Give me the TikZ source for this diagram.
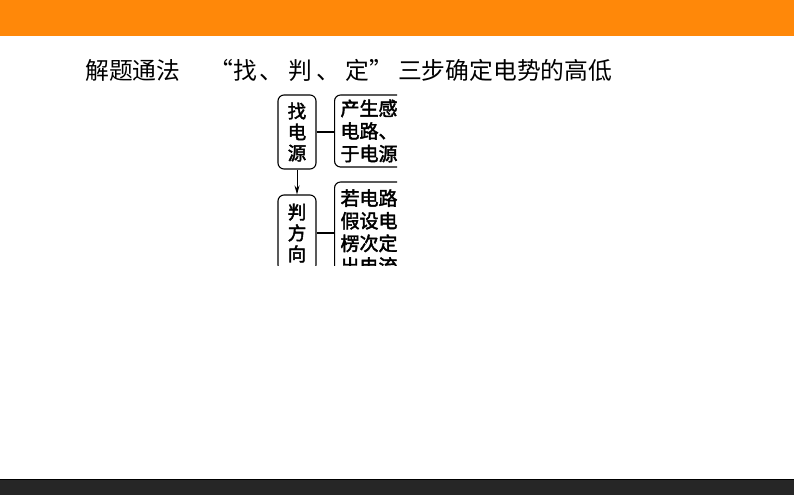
\documentclass[tikz,border=0pt]{standalone}
\usepackage{fontspec}
\newfontfamily\cjk{Noto Sans CJK SC}
\newfontfamily\cjkb[FakeBold=2.2]{Noto Sans CJK SC}
\usetikzlibrary{arrows.meta}
\definecolor{barorange}{HTML}{FF8809}
\definecolor{bardark}{HTML}{262626}
\tikzset{
  box/.style={draw, line width=1.1pt, rounded corners=6pt, inner sep=0pt},
  lbox/.style={box, minimum width=38pt, align=center,
    font=\cjkb\fontsize{18.5}{21}\selectfont},
  rbox/.style={box, anchor=west, minimum width=200pt, text width=188pt,
    inner xsep=5.5pt, align=left, font=\cjkb\fontsize{19}{22.6}\selectfont},
  link/.style={line width=1.1pt},
  title/.style={font=\cjk\fontsize{23.8}{28}\selectfont, inner sep=0pt}
}
\begin{document}
\begin{tikzpicture}[x=1pt,y=-1pt]
\useasboundingbox (0,0) rectangle (794,495);
\fill[barorange] (0,0) rectangle (794,36);
\fill[bardark] (0,479) rectangle (794,495);
\draw[black, line width=0.8pt] (0,479.4) -- (794,479.4);
\node[title, anchor=base west] (t1) at (85,79) {解题通法};
\node[title, anchor=base west] (t2) at (219,79) {\makebox[14pt][r]{“}\makebox[24pt][l]{找}\hspace{2pt}\makebox[29pt][l]{、}\makebox[24pt][l]{判}\hspace{4pt}\makebox[29pt][l]{、}\makebox[24pt][l]{定}\makebox[29pt][l]{”}三步确定电势的高低};
\begin{scope}
\clip (260,85) rectangle (397,265);
\node[lbox, minimum height=74pt] (find) at (297,132) {找\\电\\源};
\node[lbox, minimum height=76pt] (dir) at (297,233) {判\\方\\向};
\node[rbox, minimum height=72pt] (rb1) at (334,131) {产生感\\电路、\\于电源};
\node[rbox, minimum height=100pt] (rb2) at (334,232) {若电路\\假设电\\楞次定\\出电流};
\draw[link] (find.east) -- (find.east -| rb1.west);
\draw[link] (dir.east) -- (dir.east -| rb2.west);
\draw[line width=0.9pt, -{Stealth[length=9pt,width=5pt]}] (find.south) -- (dir.north);
\end{scope}
\end{tikzpicture}
\end{document}
